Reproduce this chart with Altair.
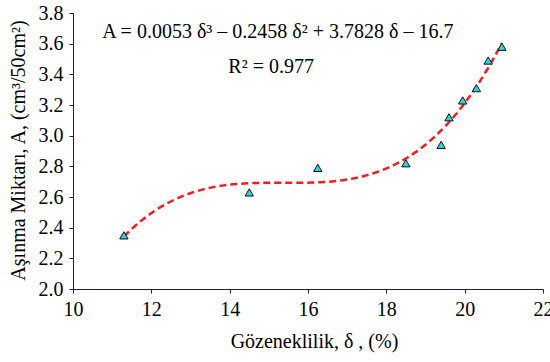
import altair as alt
import pandas as pd

# Porosity (%) and wear amount (cm3/50cm2) of the samples
porosity = [11.3, 14.5, 16.25, 18.5, 19.4, 19.6, 19.95, 20.3, 20.6, 20.95]
wear = [2.35, 2.63, 2.79, 2.82, 2.94, 3.12, 3.23, 3.31, 3.49, 3.58]

x_ticks = [10, 12, 14, 16, 18, 20, 22]
y_ticks = [2.0, 2.2, 2.4, 2.6, 2.8, 3.0, 3.2, 3.4, 3.6, 3.8]

equation = "A = 0.0053 δ³ – 0.2458 δ² + 3.7828 δ – 16.7"
r_squared = "R² = 0.977"

FONT = "Liberation Serif"

df = pd.DataFrame({"porosity": porosity, "wear": wear})
# Annotation anchors, given in the same data units as the samples
notes = pd.DataFrame({
    "label": [equation, r_squared],
    "porosity": [15.23, 15.06],
    "wear": [3.674, 3.446],
})

x_enc = alt.X(
    "porosity:Q",
    scale=alt.Scale(domain=[10, 22], nice=False, zero=False),
    axis=alt.Axis(
        values=x_ticks, format="d", grid=False,
        labelOverlap=False, labelFlush=False,
        title="Gözeneklilik, δ , (%)",
        titleX=241, titleY=52, titleAlign="center", titleBaseline="middle",
    ),
)
y_enc = alt.Y(
    "wear:Q",
    scale=alt.Scale(domain=[2.0, 3.8], nice=False, zero=False),
    axis=alt.Axis(
        values=y_ticks, format=".1f", grid=False,
        labelOverlap=False, labelFlush=False,
        title="Aşınma  Miktarı, A, (cm³/50cm²)",
        titleX=-55, titleY=137, titleAngle=-90,
        titleAlign="center", titleBaseline="middle",
    ),
)

# Third-order polynomial trend line through the samples
trend = alt.Chart(df).mark_line(
    color="#FF1A1A", strokeDash=[7, 4], strokeWidth=2.5
).transform_regression(
    "porosity", "wear", method="poly", order=3
).encode(x=x_enc, y=y_enc)

points = alt.Chart(df).mark_point(
    shape="triangle-up", filled=True, size=70,
    fill="#22D8DE", stroke="#111111", strokeWidth=1, opacity=1,
).encode(x=x_enc, y=y_enc)

labels = alt.Chart(notes).mark_text(
    font=FONT, fontSize=20, color="black", align="center", baseline="middle"
).encode(x=x_enc, y=y_enc, text="label:N")

chart = alt.layer(trend, points, labels).properties(
    width=470, height=276,
    autosize=alt.AutoSizeParams(type="none"),
    padding={"left": 73, "top": 13, "right": 7, "bottom": 73},
    background="white",
).configure_view(
    stroke=None
).configure_axis(
    domainColor="#222222", domainWidth=1,
    tickColor="#222222", tickSize=4, tickWidth=1,
    labelFont=FONT, labelFontSize=20, labelColor="black",
    titleFont=FONT, titleFontSize=20, titleColor="black", titleFontWeight="normal",
    labelPadding=6,
)

chart.save("out.html", embed_options={"renderer": "svg", "actions": False})
